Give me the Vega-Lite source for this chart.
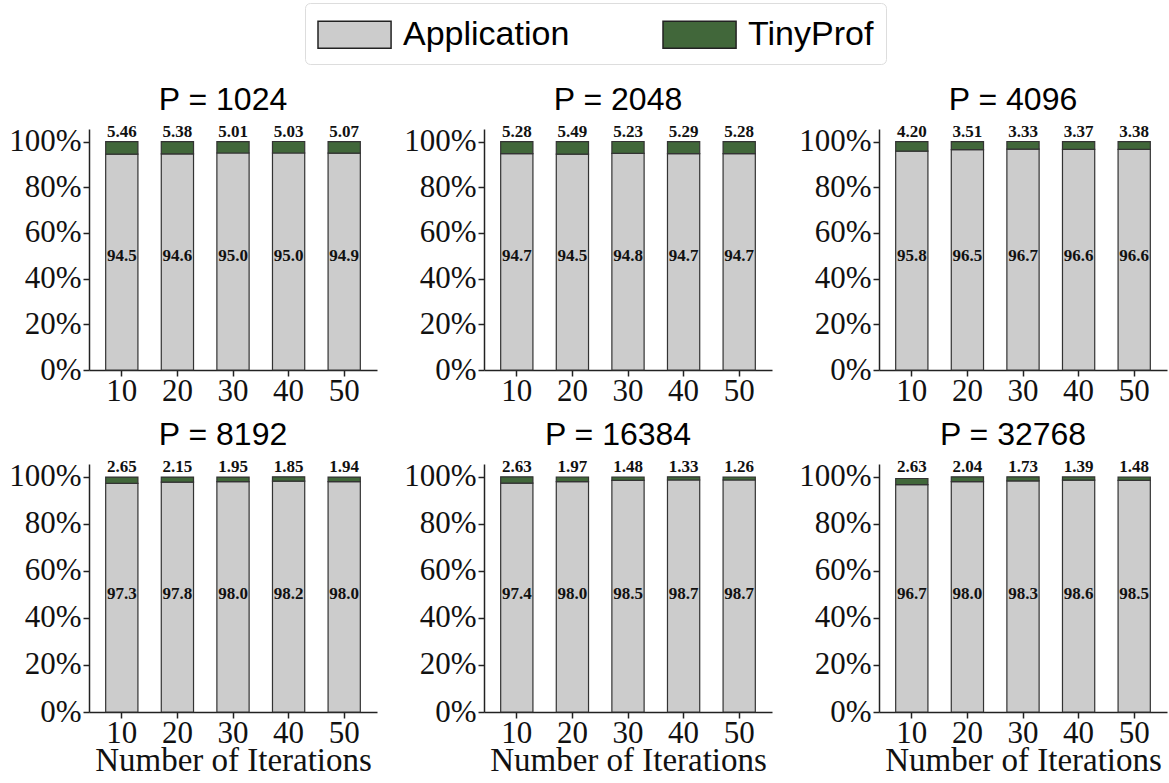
{
  "$schema": "https://vega.github.io/schema/vega-lite/v6.json",
  "padding": {"left": 8, "top": 2, "right": 4, "bottom": 0},
  "background": "white",
  "datasets": {
    "d": [
      {"P": 1024, "it": 10, "type": "Application", "v": 94.5}, {"P": 1024, "it": 10, "type": "TinyProf", "v": 5.46},
      {"P": 1024, "it": 20, "type": "Application", "v": 94.6}, {"P": 1024, "it": 20, "type": "TinyProf", "v": 5.38},
      {"P": 1024, "it": 30, "type": "Application", "v": 95.0}, {"P": 1024, "it": 30, "type": "TinyProf", "v": 5.01},
      {"P": 1024, "it": 40, "type": "Application", "v": 95.0}, {"P": 1024, "it": 40, "type": "TinyProf", "v": 5.03},
      {"P": 1024, "it": 50, "type": "Application", "v": 94.9}, {"P": 1024, "it": 50, "type": "TinyProf", "v": 5.07},
      {"P": 2048, "it": 10, "type": "Application", "v": 94.7}, {"P": 2048, "it": 10, "type": "TinyProf", "v": 5.28},
      {"P": 2048, "it": 20, "type": "Application", "v": 94.5}, {"P": 2048, "it": 20, "type": "TinyProf", "v": 5.49},
      {"P": 2048, "it": 30, "type": "Application", "v": 94.8}, {"P": 2048, "it": 30, "type": "TinyProf", "v": 5.23},
      {"P": 2048, "it": 40, "type": "Application", "v": 94.7}, {"P": 2048, "it": 40, "type": "TinyProf", "v": 5.29},
      {"P": 2048, "it": 50, "type": "Application", "v": 94.7}, {"P": 2048, "it": 50, "type": "TinyProf", "v": 5.28},
      {"P": 4096, "it": 10, "type": "Application", "v": 95.8}, {"P": 4096, "it": 10, "type": "TinyProf", "v": 4.20},
      {"P": 4096, "it": 20, "type": "Application", "v": 96.5}, {"P": 4096, "it": 20, "type": "TinyProf", "v": 3.51},
      {"P": 4096, "it": 30, "type": "Application", "v": 96.7}, {"P": 4096, "it": 30, "type": "TinyProf", "v": 3.33},
      {"P": 4096, "it": 40, "type": "Application", "v": 96.6}, {"P": 4096, "it": 40, "type": "TinyProf", "v": 3.37},
      {"P": 4096, "it": 50, "type": "Application", "v": 96.6}, {"P": 4096, "it": 50, "type": "TinyProf", "v": 3.38},
      {"P": 8192, "it": 10, "type": "Application", "v": 97.3}, {"P": 8192, "it": 10, "type": "TinyProf", "v": 2.65},
      {"P": 8192, "it": 20, "type": "Application", "v": 97.8}, {"P": 8192, "it": 20, "type": "TinyProf", "v": 2.15},
      {"P": 8192, "it": 30, "type": "Application", "v": 98.0}, {"P": 8192, "it": 30, "type": "TinyProf", "v": 1.95},
      {"P": 8192, "it": 40, "type": "Application", "v": 98.2}, {"P": 8192, "it": 40, "type": "TinyProf", "v": 1.85},
      {"P": 8192, "it": 50, "type": "Application", "v": 98.0}, {"P": 8192, "it": 50, "type": "TinyProf", "v": 1.94},
      {"P": 16384, "it": 10, "type": "Application", "v": 97.4}, {"P": 16384, "it": 10, "type": "TinyProf", "v": 2.63},
      {"P": 16384, "it": 20, "type": "Application", "v": 98.0}, {"P": 16384, "it": 20, "type": "TinyProf", "v": 1.97},
      {"P": 16384, "it": 30, "type": "Application", "v": 98.5}, {"P": 16384, "it": 30, "type": "TinyProf", "v": 1.48},
      {"P": 16384, "it": 40, "type": "Application", "v": 98.7}, {"P": 16384, "it": 40, "type": "TinyProf", "v": 1.33},
      {"P": 16384, "it": 50, "type": "Application", "v": 98.7}, {"P": 16384, "it": 50, "type": "TinyProf", "v": 1.26},
      {"P": 32768, "it": 10, "type": "Application", "v": 96.7}, {"P": 32768, "it": 10, "type": "TinyProf", "v": 2.63},
      {"P": 32768, "it": 20, "type": "Application", "v": 98.0}, {"P": 32768, "it": 20, "type": "TinyProf", "v": 2.04},
      {"P": 32768, "it": 30, "type": "Application", "v": 98.3}, {"P": 32768, "it": 30, "type": "TinyProf", "v": 1.73},
      {"P": 32768, "it": 40, "type": "Application", "v": 98.6}, {"P": 32768, "it": 40, "type": "TinyProf", "v": 1.39},
      {"P": 32768, "it": 50, "type": "Application", "v": 98.5}, {"P": 32768, "it": 50, "type": "TinyProf", "v": 1.48}
    ]
  },
  "data": {"name": "d"},
  "columns": 3,
  "spacing": {"column": 26, "row": 12},
  "concat": [
    {"title": "P = 1024", "width": 288, "height": 241, "transform": [{"filter": "datum.P == 1024"}],
     "layer": [
      {"mark": {"type": "bar", "stroke": "#333", "strokeWidth": 1.2},
       "encoding": {"x": {"field": "it", "type": "ordinal", "axis": {"title": null}}, "y": {"field": "v", "type": "quantitative", "stack": "zero", "scale": {"domain": [0, 105.5], "nice": false}}, "color": {"field": "type", "type": "nominal"}, "order": {"field": "type", "sort": "ascending"}}},
      {"transform": [{"filter": "datum.type == 'Application'"}], "mark": {"type": "text", "baseline": "middle"},
       "encoding": {"x": {"field": "it", "type": "ordinal"}, "y": {"datum": 50}, "text": {"field": "v", "type": "quantitative", "format": ".1f"}}},
      {"transform": [{"filter": "datum.type == 'TinyProf'"}], "mark": {"type": "text", "baseline": "bottom", "dy": -1},
       "encoding": {"x": {"field": "it", "type": "ordinal"}, "y": {"datum": 100}, "text": {"field": "v", "type": "quantitative", "format": ".2f"}}}
     ]},
    {"title": "P = 2048", "width": 288, "height": 241, "transform": [{"filter": "datum.P == 2048"}],
     "layer": [
      {"mark": {"type": "bar", "stroke": "#333", "strokeWidth": 1.2},
       "encoding": {"x": {"field": "it", "type": "ordinal", "axis": {"title": null}}, "y": {"field": "v", "type": "quantitative", "stack": "zero", "scale": {"domain": [0, 105.5], "nice": false}}, "color": {"field": "type", "type": "nominal"}, "order": {"field": "type", "sort": "ascending"}}},
      {"transform": [{"filter": "datum.type == 'Application'"}], "mark": {"type": "text", "baseline": "middle"},
       "encoding": {"x": {"field": "it", "type": "ordinal"}, "y": {"datum": 50}, "text": {"field": "v", "type": "quantitative", "format": ".1f"}}},
      {"transform": [{"filter": "datum.type == 'TinyProf'"}], "mark": {"type": "text", "baseline": "bottom", "dy": -1},
       "encoding": {"x": {"field": "it", "type": "ordinal"}, "y": {"datum": 100}, "text": {"field": "v", "type": "quantitative", "format": ".2f"}}}
     ]},
    {"title": "P = 4096", "width": 288, "height": 241, "transform": [{"filter": "datum.P == 4096"}],
     "layer": [
      {"mark": {"type": "bar", "stroke": "#333", "strokeWidth": 1.2},
       "encoding": {"x": {"field": "it", "type": "ordinal", "axis": {"title": null}}, "y": {"field": "v", "type": "quantitative", "stack": "zero", "scale": {"domain": [0, 105.5], "nice": false}}, "color": {"field": "type", "type": "nominal"}, "order": {"field": "type", "sort": "ascending"}}},
      {"transform": [{"filter": "datum.type == 'Application'"}], "mark": {"type": "text", "baseline": "middle"},
       "encoding": {"x": {"field": "it", "type": "ordinal"}, "y": {"datum": 50}, "text": {"field": "v", "type": "quantitative", "format": ".1f"}}},
      {"transform": [{"filter": "datum.type == 'TinyProf'"}], "mark": {"type": "text", "baseline": "bottom", "dy": -1},
       "encoding": {"x": {"field": "it", "type": "ordinal"}, "y": {"datum": 100}, "text": {"field": "v", "type": "quantitative", "format": ".2f"}}}
     ]},
    {"title": "P = 8192", "width": 288, "height": 248, "transform": [{"filter": "datum.P == 8192"}],
     "layer": [
      {"mark": {"type": "bar", "stroke": "#333", "strokeWidth": 1.2},
       "encoding": {"x": {"field": "it", "type": "ordinal", "axis": {"title": "Number of Iterations"}}, "y": {"field": "v", "type": "quantitative", "stack": "zero", "scale": {"domain": [0, 105.5], "nice": false}}, "color": {"field": "type", "type": "nominal"}, "order": {"field": "type", "sort": "ascending"}}},
      {"transform": [{"filter": "datum.type == 'Application'"}], "mark": {"type": "text", "baseline": "middle"},
       "encoding": {"x": {"field": "it", "type": "ordinal"}, "y": {"datum": 50}, "text": {"field": "v", "type": "quantitative", "format": ".1f"}}},
      {"transform": [{"filter": "datum.type == 'TinyProf'"}], "mark": {"type": "text", "baseline": "bottom", "dy": -1},
       "encoding": {"x": {"field": "it", "type": "ordinal"}, "y": {"datum": 100}, "text": {"field": "v", "type": "quantitative", "format": ".2f"}}}
     ]},
    {"title": "P = 16384", "width": 288, "height": 248, "transform": [{"filter": "datum.P == 16384"}],
     "layer": [
      {"mark": {"type": "bar", "stroke": "#333", "strokeWidth": 1.2},
       "encoding": {"x": {"field": "it", "type": "ordinal", "axis": {"title": "Number of Iterations"}}, "y": {"field": "v", "type": "quantitative", "stack": "zero", "scale": {"domain": [0, 105.5], "nice": false}}, "color": {"field": "type", "type": "nominal"}, "order": {"field": "type", "sort": "ascending"}}},
      {"transform": [{"filter": "datum.type == 'Application'"}], "mark": {"type": "text", "baseline": "middle"},
       "encoding": {"x": {"field": "it", "type": "ordinal"}, "y": {"datum": 50}, "text": {"field": "v", "type": "quantitative", "format": ".1f"}}},
      {"transform": [{"filter": "datum.type == 'TinyProf'"}], "mark": {"type": "text", "baseline": "bottom", "dy": -1},
       "encoding": {"x": {"field": "it", "type": "ordinal"}, "y": {"datum": 100}, "text": {"field": "v", "type": "quantitative", "format": ".2f"}}}
     ]},
    {"title": "P = 32768", "width": 288, "height": 248, "transform": [{"filter": "datum.P == 32768"}],
     "layer": [
      {"mark": {"type": "bar", "stroke": "#333", "strokeWidth": 1.2},
       "encoding": {"x": {"field": "it", "type": "ordinal", "axis": {"title": "Number of Iterations"}}, "y": {"field": "v", "type": "quantitative", "stack": "zero", "scale": {"domain": [0, 105.5], "nice": false}}, "color": {"field": "type", "type": "nominal"}, "order": {"field": "type", "sort": "ascending"}}},
      {"transform": [{"filter": "datum.type == 'Application'"}], "mark": {"type": "text", "baseline": "middle"},
       "encoding": {"x": {"field": "it", "type": "ordinal"}, "y": {"datum": 50}, "text": {"field": "v", "type": "quantitative", "format": ".1f"}}},
      {"transform": [{"filter": "datum.type == 'TinyProf'"}], "mark": {"type": "text", "baseline": "bottom", "dy": -1},
       "encoding": {"x": {"field": "it", "type": "ordinal"}, "y": {"datum": 100}, "text": {"field": "v", "type": "quantitative", "format": ".2f"}}}
     ]}
  ],
  "config": {
    "view": {"stroke": null},
    "scale": {"bandPaddingInner": 0.42, "bandPaddingOuter": 0.3},
    "range": {"category": ["#cccccc", "#41673a"]},
    "text": {"font": "Liberation Serif", "fontSize": 17, "fontWeight": "bold", "color": "#111"},
    "title": {"font": "Liberation Sans", "fontSize": 32, "fontWeight": "normal", "color": "#000", "anchor": "middle", "offset": 6, "dx": -10},
    "axis": {"domainColor": "#222", "tickColor": "#222", "labelColor": "#111", "labelFont": "Liberation Serif", "labelFontSize": 31, "titleFont": "Liberation Serif", "titleFontSize": 33, "titleFontWeight": "normal", "titleColor": "#111", "grid": false, "tickSize": 6, "domainWidth": 1.5, "tickWidth": 1.5},
    "axisX": {"labelAngle": 0, "labelPadding": 0, "titlePadding": -4},
    "axisY": {"title": null, "values": [0, 20, 40, 60, 80, 100], "labelExpr": "datum.value + '%'", "labelPadding": 2},
    "legend": {"orient": "none", "legendX": 216, "legendY": -126, "direction": "horizontal", "title": null, "strokeColor": "#dddddd", "cornerRadius": 5, "padding": 12, "fillColor": "white", "labelFont": "Liberation Sans", "labelFontSize": 34, "labelColor": "#000", "labelLimit": 400, "symbolType": "M-1,-0.73L2.95,-0.73L2.95,0.73L-1,0.73Z", "symbolSize": 1369, "symbolStrokeColor": "#222", "symbolStrokeWidth": 1.5, "symbolOpacity": 1, "columnPadding": 90, "labelOffset": 47}
  },
  "resolve": {"scale": {"y": "independent"}}
}
